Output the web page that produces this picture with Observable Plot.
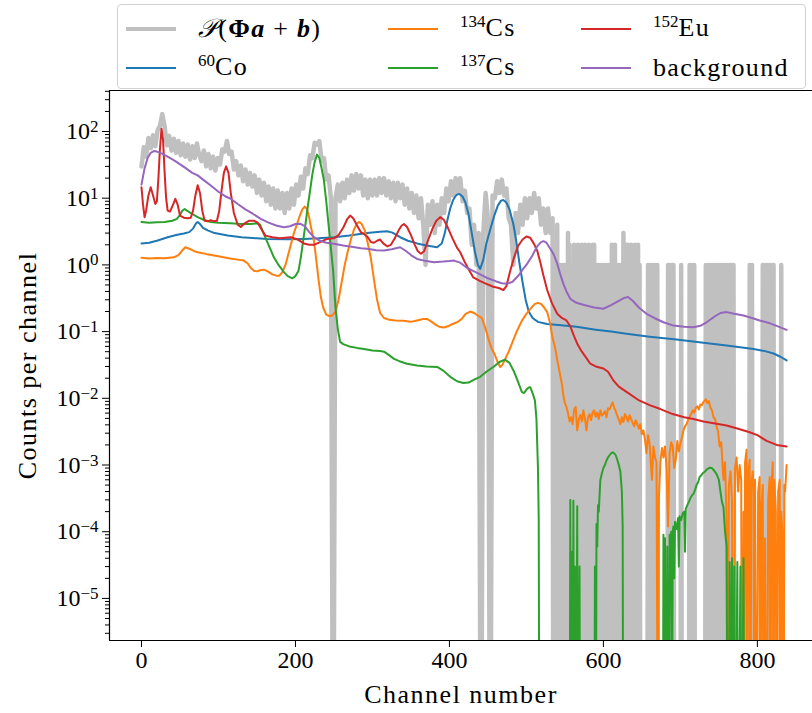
<!DOCTYPE html>
<html>
<head>
<meta charset="utf-8">
<script src="https://cdn.jsdelivr.net/npm/d3@7"></script>
<script src="https://cdn.jsdelivr.net/npm/@observablehq/plot@0.6"></script>
<style>
  body { margin: 0; background: #fff; }
  #fig { position: relative; width: 812px; height: 713px; overflow: hidden; font-family: "Liberation Serif", serif; color: #000; }
  #fig svg { position: absolute; left: 0; top: 0; }
  #legend { position: absolute; left: 117px; top: 4px; width: 689px; height: 85px; border: 1px solid #d2d2d2; border-radius: 4px; background: rgba(255,255,255,0.8); box-sizing: border-box; }
  .item { position: absolute; height: 0; }
  .handle { position: absolute; left: 0; width: 50px; }
  .label { position: absolute; white-space: nowrap; font-size: 26px; line-height: 26px; letter-spacing: 1.3px; transform: translateY(-50%); top: 0; }
  .label sup { font-size: 17px; vertical-align: 0; position: relative; top: -9px; letter-spacing: 0; }
</style>
</head>
<body>
<div id="fig"></div>
<script>
// Channel axis ticks and decade ticks of the count axis
const xTicks = [0, 200, 400, 600, 800];
const yDecades = [-5, -4, -3, -2, -1, 0, 1, 2];

// Sampled fit P(Φa+b): counts every 3 channels from channel 0 to 534
const fitStep = 3;
const fitHead = [
  30, 58, 42, 80, 56, 88, 60, 104, 122, 182, 120, 62, 86, 52, 78, 48, 72, 44, 66, 42,
  64, 38, 60, 40, 66, 44, 36, 52, 30, 46, 28, 42, 26, 40, 32, 54, 50, 72, 46, 50,
  27, 36, 22, 31, 18, 27, 16, 24, 15, 22, 12, 19, 11, 17, 9, 15, 8, 14, 7, 13,
  7, 12, 6, 12, 7, 14, 8, 16, 11, 21, 14, 28, 23, 44, 40, 68, 64, 72, 36, 40,
  19, 22, 10, 0, 10, 16, 9, 17, 10, 19, 12, 22, 13, 23, 14, 22, 11, 19, 10, 19,
  11, 19, 11, 20, 12, 20, 11, 18, 10, 17, 9, 17, 10, 16, 8, 14, 7, 12, 6, 11,
  5, 10, 4, 1, 8, 4, 9, 3, 8, 4, 10, 6, 14, 9, 18, 11, 20, 12, 20, 9,
  13, 6, 7, 2, 4, 1, 3, 0, 3, 12, 5, 0, 11, 10, 18, 12, 19, 11, 14, 5,
  4, 1, 6, 3, 8, 4, 10, 5, 10, 6, 12, 7, 10, 4, 7, 3, 7, 3, 5
];
// Counts per channel from channel 535 to 838 (one digit per channel)
const fitTailStart = 535;
const fitTail = [
  "01020", "4010", "100101001", "0302010", "1020101200102010210102010020",
  "2010", "010100101010010101", "020102", "010010101", "030102",
  "0201020100201", "0201", "0000000000", "1010010100101", "0000000000000",
  "10100101", "000000000", "1", "0000000000", "1010011",
  "00000000000000", "1001010100101001001010100101010010101", "00000000000000000000", "1001", "0000000000000",
  "101001010010101", "000000000", "1", "0000000"
].join("");

// Model components: [channel, counts per channel]
const co60 = [
  [0,2.1],[10,2.15],[20,2.3],[34,2.6],[45,2.8],[55,2.95],[62,3.1],[67,3.5],[71,4.2],[73,4.4],[76,4.1],[80,3.6],
  [86,3.3],[95,3.0],[112,2.75],[130,2.6],[150,2.5],[163,2.45],[190,2.42],[211,2.45],[230,2.5],[250,2.6],[270,2.75],
  [293,3.0],[310,3.15],[319,3.2],[326,3.05],[336,2.6],[346,2.3],[358,2.1],[370,1.95],[384,1.84],[390,2.1],[394,3.0],
  [397,4.5],[401,7],[405,9.5],[409,11.2],[413,11.6],[417,10.6],[421,8.5],[425,5.6],[429,3.0],[433,1.6],[437,1.0],
  [440,0.87],[444,1.2],[448,2.1],[453,3.4],[458,5.4],[463,7.8],[467,9.2],[470,9.4],[474,8.6],[478,6.8],[483,4.1],
  [487,2.2],[491,1.05],[495,0.55],[499,0.3],[503,0.2],[508,0.16],[515,0.14],[527,0.13],[545,0.125],[565,0.118],
  [590,0.107],[610,0.1],[630,0.093],[660,0.084],[695,0.076],[730,0.068],[760,0.062],[780,0.058],[795,0.055],
  [810,0.051],[821,0.047],[830,0.042],[838,0.037]
];
const cs134 = [
  [0,1.28],[10,1.25],[20,1.27],[30,1.26],[42,1.3],[48,1.4],[52,1.6],[57,1.84],[62,1.75],[68,1.62],[73,1.55],[85,1.45],
  [100,1.35],[115,1.25],[125,1.2],[133,1.16],[138,1.05],[142,0.9],[146,0.82],[150,0.8],[154,0.83],[159,0.85],[164,0.8],
  [170,0.72],[175,0.69],[179,0.69],[183,0.78],[187,1.0],[190,1.35],[194,2.0],[198,3.0],[202,4.1],[206,5.6],[209,6.8],
  [212,7.5],[215,6.9],[218,5.0],[221,3.3],[224,2.3],[227,1.2],[230,0.6],[233,0.33],[236,0.23],[240,0.18],[244,0.17],
  [248,0.175],[252,0.2],[256,0.3],[260,0.55],[264,1.0],[268,1.6],[272,2.4],[276,3.4],[280,4.2],[283,4.4],[286,4.1],
  [290,3.3],[294,2.1],[298,1.25],[302,0.6],[306,0.3],[310,0.19],[315,0.16],[322,0.15],[330,0.147],[340,0.145],
  [350,0.14],[358,0.147],[366,0.155],[371,0.155],[377,0.14],[383,0.125],[388,0.117],[393,0.115],[398,0.12],[404,0.13],
  [410,0.138],[416,0.155],[421,0.185],[427,0.2],[432,0.19],[438,0.17],[442,0.16],[447,0.11],[451,0.075],[455,0.055],
  [459,0.045],[463,0.034],[466,0.0295],[469,0.032],[473,0.04],[477,0.05],[482,0.07],[488,0.104],[494,0.145],[500,0.185],
  [506,0.225],[511,0.26],[515,0.27],[519,0.26],[523,0.23],[527,0.196],[531,0.13],[534,0.08],[537,0.059],[540,0.038],
  [543,0.025],[546,0.0167],[548,0.011],[550,0.0085],[552,0.0074],[554,0.006],[556,0.0045],[558,0.0052],[560,0.0041],
  [562,0.0068],[564,0.0074],[566,0.0033],[568,0.0048],[570,0.0056],[572,0.0045],[574,0.0066],[576,0.005],[578,0.0033],
  [580,0.0052],[582,0.0058],[584,0.0047],[586,0.0062],[588,0.0066],[590,0.0053],[592,0.0061],[594,0.0049],[596,0.0066],
  [598,0.0055],[600,0.0058],[602,0.0064],[604,0.0052],[606,0.0071],[608,0.0068],[610,0.0077],[612,0.0087],[614,0.0072],
  [616,0.0064],[618,0.0055],[620,0.0048],[622,0.0041],[624,0.0052],[626,0.0044],[628,0.0058],[630,0.0052],[632,0.0045],
  [634,0.0056],[636,0.0049],[638,0.0043],[640,0.0038],[642,0.0047],[644,0.0041],[646,0.0035],[648,0.0041],[650,0.0029],
  [652,0.0033],[654,0.0024],[656,0.0015],[658,0.0028],[660,0.0021],[662,0.0009],[663,0.0006],[665,0.0019],[667,0.0013],
  [669,0.0011],[671,0],[672,0.0003],[674,0.0011],[676,0.0018],[678,0.0013],[680,0.0019],[682,0.0009],[684,0.00012],
  [686,0.0015],[688,0.0022],[690,0.0019],[692,0.0009],[694,0.0012],[696,0.0023],[698,0.0016],[700,0.0021],[702,0.0026],
  [704,0.0033],[706,0.0038],[708,0.0041],[710,0.0047],[712,0.0053],[714,0.0058],[716,0.0066],[718,0.0061],[720,0.0072],
  [722,0.0076],[724,0.0068],[726,0.0081],[728,0.0079],[730,0.0088],[732,0.0093],[733,0.0097],[735,0.0085],[737,0.0091],
  [739,0.0072],[741,0.0066],[743,0.0052],[745,0.0049],[747,0.0038],[749,0.0031],[751,0.0019],[753,0.0022],[755,0.0009],
  [756,0.0006],[758,0.0011],[760,0.00015],[761,0],[763,0.0005],[765,0.0008],[767,0.0003],[769,0],[771,0.0009],
  [773,0.0013],[775,0.0004],[777,0.001],[779,0.0006],[780,0],[782,0.0002],[783,0],[784,0.0011],[786,0.0017],[787,0],
  [788,0.0007],[790,0.0012],[791,0],[792,0.0005],[794,0.0008],[795,0.00034],[796,0],[797,0.0006],[799,0],[801,0.0004],
  [803,0.00066],[804,0],[805,0.0002],[807,0.0005],[808,0],[810,0.00008],[812,0],[814,0.0003],[816,0.00066],[817,0],
  [818,0.0004],[820,0.0011],[821,0],[822,0.0006],[824,0.0002],[825,0],[827,0.0004],[829,0.0006],[830,0],[831,0.0002],
  [833,0.00007],[834,0],[835,0.0005],[836,0.0004],[838,0.001]
];
const cs137 = [
  [0,4.4],[10,4.3],[20,4.35],[30,4.4],[40,4.6],[46,4.9],[50,5.6],[53,6.5],[56,6.9],[60,6.4],[66,5.8],[73,5.2],[80,4.8],
  [90,4.4],[100,4.3],[115,4.2],[130,4.1],[142,4.1],[150,4.2],[154,4.0],[159,2.9],[165,2.0],[172,1.3],[178,1.0],[185,0.78],
  [190,0.68],[196,0.63],[200,0.68],[204,0.82],[207,1.3],[210,2.3],[213,4.1],[216,7.5],[219,13],[222,23],[225,35],[228,45],
  [231,40],[234,28],[237,18.4],[240,9],[243,4],[246,1.8],[249,0.8],[252,0.23],[255,0.11],[258,0.07],[262,0.065],[270,0.06],
  [280,0.057],[289,0.055],[300,0.052],[310,0.051],[315,0.05],[322,0.044],[328,0.039],[335,0.036],[345,0.033],[358,0.031],
  [370,0.03],[384,0.0295],[392,0.026],[401,0.021],[410,0.018],[418,0.017],[425,0.0172],[432,0.019],[440,0.021],[448,0.025],
  [457,0.0295],[465,0.035],[472,0.038],[478,0.034],[484,0.025],[488,0.019],[491,0.0155],[494,0.0125],[497,0.012],
  [500,0.0135],[503,0.0145],[505,0.0147],[508,0.012],[511,0.0093],[513,0.005],[515,0.0009],[516,0.00015],[517,0],
  [556,0],[557,0.0003],[558,0],[559,0.00005],[560,0],[561,0.00029],[562,0],[563,0.00003],[564,0],[566,0.00024],[567,0],
  [569,0.00003],[570,0],[588,0],[589,0.00003],[590,0],[591,0.00013],[592,0.00006],[593,0.00025],[594,0.0002],[596,0.00059],
  [598,0.00075],[600,0.0009],[602,0.001],[604,0.00117],[606,0.0013],[608,0.0014],[610,0.0015],[612,0.00155],[614,0.0015],
  [616,0.0014],[618,0.0012],[620,0.001],[622,0.0008],[624,0.0004],[625,0.00012],[626,0],[677,0],[678,0.00009],[679,0],
  [680,0.00008],[681,0],[683,0.00006],[684,0],[686,0.00009],[687,0.00004],[688,0.0001],[689,0],[690,0.0001],[691,0.00012],
  [692,0.00002],[693,0.00014],[695,0.00011],[697,0.00016],[698,0.00003],[699,0.00017],[701,0.00015],[703,0.00019],
  [705,0.0002],[706,0.00005],[707,0.00022],[709,0.00025],[711,0.00028],[713,0.00032],[715,0.00035],[717,0.00037],
  [719,0.00042],[721,0.0005],[723,0.00055],[725,0.00066],[727,0.0007],[729,0.00075],[732,0.0008],[735,0.00087],
  [738,0.00091],[741,0.0009],[744,0.00082],[747,0.00073],[750,0.0006],[752,0.0004],[754,0.00028],[756,0.00023],
  [758,0.0001],[760,0.00006],[762,0],[764,0.000035],[765,0],[767,0.00004],[768,0],[770,0.00003],[771,0],[774,0.000035],
  [775,0],[778,0.00003],[779,0],[782,0.00004],[783,0],[838,0]
];
const eu152 = [
  [0,14.6],[2,8],[4,5.2],[6,6.5],[9,11],[12,14.6],[15,11],[18,8.2],[20,9],[22,20],[24,55],[26,110],[28,75],[30,25],
  [32,10],[34,6.5],[37,6.3],[40,7.5],[44,9.8],[47,8],[50,5.5],[55,5.1],[60,5],[64,5.1],[67,6.5],[70,11],[73,15.6],[76,12],
  [79,6.5],[82,4.6],[86,4.5],[90,4.7],[94,4.5],[98,4.6],[101,6.5],[104,13],[107,24],[110,30],[113,24],[116,12],[120,6],
  [125,4],[129,3.7],[134,4.2],[140,4.6],[146,4.6],[151,4.3],[156,3.4],[161,2.75],[170,2.6],[180,2.5],[194,2.6],[203,2.4],
  [211,2.1],[218,2.0],[224,2.0],[232,2.2],[241,2.45],[250,2.5],[256,2.8],[262,3.6],[267,4.8],[271,5.5],[275,5.0],[280,3.9],
  [285,3.1],[289,2.9],[294,2.6],[298,2.2],[302,2.15],[306,2.3],[310,2.4],[314,2.1],[319,1.9],[324,2.0],[329,2.5],[334,3.3],
  [338,3.9],[341,4.1],[345,3.7],[350,2.8],[355,2.0],[359,1.6],[363,1.47],[367,1.6],[372,2.3],[378,3.5],[383,4.6],[388,5.2],
  [393,4.7],[398,3.6],[404,2.5],[410,1.8],[414,1.55],[420,1.1],[426,0.82],[431,0.65],[440,0.57],[448,0.52],[457,0.47],
  [464,0.45],[470,0.42],[474,0.48],[479,0.82],[484,1.3],[489,1.9],[495,2.4],[500,2.67],[505,2.55],[510,2.05],[514,1.64],
  [518,1.1],[522,0.7],[527,0.42],[533,0.27],[540,0.185],[546,0.16],[552,0.147],[557,0.12],[562,0.085],[566,0.066],
  [572,0.05],[578,0.04],[583,0.033],[590,0.03],[600,0.028],[606,0.025],[613,0.0185],[620,0.015],[630,0.0125],[645,0.0095],
  [660,0.0079],[674,0.0069],[690,0.0058],[705,0.0052],[717,0.0049],[730,0.0045],[745,0.0042],[760,0.0039],[775,0.0035],
  [790,0.0031],[800,0.0028],[812,0.0023],[825,0.002],[838,0.0019]
];
const background = [
  [0,16],[4,28],[8,40],[12,48],[16,51],[20,50],[26,47],[34,42],[44,36],[56,29],[66,24],[73,22],[80,19],[90,15.5],
  [100,12.5],[110,10.5],[116,9.8],[125,8.2],[135,6.8],[145,5.8],[155,4.9],[165,4.3],[175,3.9],[185,3.67],[193,3.8],
  [200,4.1],[206,4.15],[212,3.8],[218,3.1],[224,2.6],[232,2.3],[240,2.15],[250,2.07],[262,1.95],[275,1.85],[285,1.78],
  [293,1.74],[305,1.66],[315,1.64],[325,1.72],[336,1.84],[344,1.6],[352,1.35],[358,1.23],[370,1.14],[380,1.1],[392,1.12],
  [400,1.14],[406,1.16],[414,1.08],[423,0.9],[432,0.8],[440,0.72],[450,0.63],[460,0.57],[468,0.53],[475,0.52],[482,0.56],
  [490,0.7],[496,0.88],[501,1.04],[508,1.4],[514,1.9],[519,2.2],[522,2.27],[526,2.15],[531,1.75],[535,1.47],[540,1.05],
  [544,0.72],[548,0.52],[552,0.4],[557,0.31],[565,0.27],[575,0.25],[588,0.23],[600,0.22],[610,0.25],[620,0.29],[627,0.32],
  [632,0.33],[638,0.29],[646,0.23],[656,0.185],[666,0.16],[678,0.138],[691,0.123],[705,0.118],[717,0.116],[726,0.122],
  [734,0.138],[745,0.17],[752,0.19],[760,0.196],[770,0.185],[782,0.174],[793,0.16],[803,0.147],[815,0.135],[825,0.122],
  [833,0.112],[838,0.106]
];

// Colours and legend entries (column-major, three columns of two rows)
const series = [
  {key: "fit",  color: "#c0c0c0", width: 4.5},
  {key: "co60", color: "#1f77b4", width: 2},
  {key: "cs134", color: "#ff7f0e", width: 2},
  {key: "cs137", color: "#2ca02c", width: 2},
  {key: "eu152", color: "#d62728", width: 2},
  {key: "bg",   color: "#9467bd", width: 2}
];

// Zero counts sit at -∞ on the log axis; draw them far below the frame and let the clip cut them.
const floor = 1e-9;
const rows = pairs => pairs.map(([ch, v]) => ({ch, v}));
const fitRows = fitHead.map((v, i) => ({ch: i * fitStep, v}))
  .concat([...fitTail].map((c, i) => ({ch: fitTailStart + i, v: +c})));
const data = {
  fit: fitRows, co60: rows(co60), cs134: rows(cs134), cs137: rows(cs137), eu152: rows(eu152), bg: rows(background)
};

const xDomain = [-41.54, 871.6];
const yDomain = [10 ** -5.631, 10 ** 2.6147];
const yMajor = yDecades.map(e => 10 ** e);
const yMinor = [];
for (let e = -6; e <= 2; e++) for (let m = 2; m <= 9; m++) {
  const v = m * 10 ** e;
  if (v >= yDomain[0] && v <= yDomain[1]) yMinor.push(v);
}

const chart = Plot.plot({
  width: 812,
  height: 713,
  marginLeft: 109,
  marginRight: 0,
  marginTop: 90,
  marginBottom: 73,
  x: {domain: xDomain},
  y: {type: "log", domain: yDomain},
  style: {fontFamily: '"Liberation Serif", serif', fontSize: "24px", color: "#000", background: "transparent"},
  marks: [
    ...series.map(s => Plot.lineY(data[s.key], {
      x: "ch", y: d => Math.max(d.v, floor),
      stroke: s.color, strokeWidth: s.width, strokeLinejoin: "round", clip: true
    })),
    Plot.ruleX([xDomain[0]], {stroke: "#000", strokeWidth: 1.2}),
    Plot.ruleY([yDomain[0]], {stroke: "#000", strokeWidth: 1.2}),
    Plot.ruleY([yDomain[1]], {stroke: "#000", strokeWidth: 1.2}),
    Plot.axisX({ticks: xTicks, tickSize: 7, tickPadding: 3, tickFormat: d => String(d), label: null, fontSize: 24}),
    Plot.axisY({ticks: yMajor, tickSize: 7, tickPadding: 4, tickFormat: d => "10^" + Math.round(Math.log10(d)), label: null, fontSize: 24}),
    Plot.axisY({ticks: yMinor, tickSize: 4, tickFormat: () => "", label: null}),
    Plot.text(["Channel number"], {text: d => d, frameAnchor: "bottom", textAnchor: "middle", lineAnchor: "middle", dy: 54, fontSize: 26}),
    Plot.text(["Counts per channel"], {text: d => d, frameAnchor: "left", textAnchor: "middle", lineAnchor: "middle", dx: -82, rotate: -90, fontSize: 26})
  ]
});

// Powers of ten as superscripts on the count axis
chart.querySelectorAll('g[aria-label="y-axis tick label"] text').forEach(t => {
  const m = /^10\^(-?\d+)$/.exec(t.textContent);
  if (!m) return;
  t.textContent = "10";
  const sup = document.createElementNS("http://www.w3.org/2000/svg", "tspan");
  sup.setAttribute("dy", "-0.42em");
  sup.setAttribute("font-size", "17");
  sup.textContent = m[1].replace("-", "\u2212");
  t.appendChild(sup);
});
// Axis titles set a little wider, as in the original typesetting
chart.querySelectorAll('g[aria-label="text"] text').forEach(t => t.setAttribute("letter-spacing", "1.5"));

const fig = document.getElementById("fig");
fig.appendChild(chart);

// Legend
const legendItems = [
  {key: "fit",  html: '<span style="font-style:italic">𝒫</span>(<b>Φ</b><b><i>a</i></b> + <b><i>b</i></b>)', col: 0, row: 0},
  {key: "co60", html: '<sup>60</sup>Co', col: 0, row: 1},
  {key: "cs134", html: '<sup>134</sup>Cs', col: 1, row: 0},
  {key: "cs137", html: '<sup>137</sup>Cs', col: 1, row: 1},
  {key: "eu152", html: '<sup>152</sup>Eu', col: 2, row: 0},
  {key: "bg",   html: 'background', col: 2, row: 1}
];
const colX = [8, 270, 463];
const rowY = [24, 63];
const legend = document.createElement("div");
legend.id = "legend";
for (const it of legendItems) {
  const s = series.find(d => d.key === it.key);
  const item = document.createElement("div");
  item.className = "item";
  item.style.left = colX[it.col] + "px";
  item.style.top = rowY[it.row] + "px";
  item.innerHTML = `<div class="handle" style="border-top:${s.width}px solid ${s.color};top:${-s.width / 2}px"></div>` +
    `<div class="label" style="left:72px">${it.html}</div>`;
  legend.appendChild(item);
}
fig.appendChild(legend);
</script>
</body>
</html>
